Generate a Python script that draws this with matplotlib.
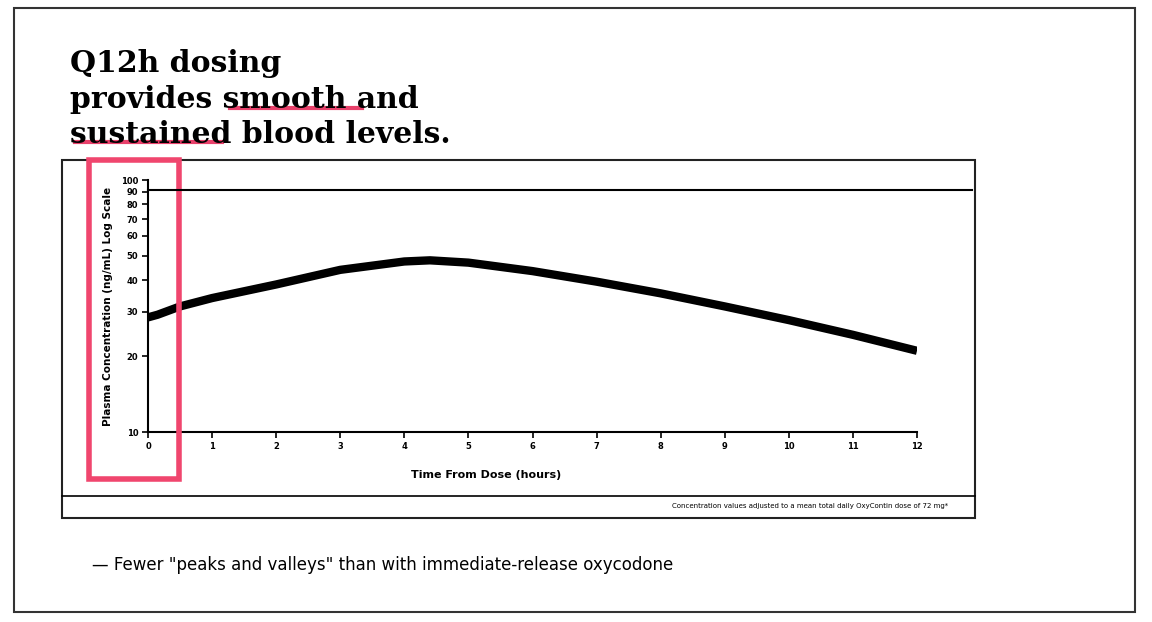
import matplotlib
matplotlib.use("Agg")
import matplotlib.pyplot as plt
from matplotlib.patches import Rectangle

hours = [0, 0.15, 0.5, 1, 2, 3, 4, 4.4, 5, 6, 7, 8, 9, 10, 11, 12]
conc = [28.5, 29.2, 31.5, 34, 38.5, 44, 47.5, 48, 47, 43.5, 39.5, 35.5, 31.5, 27.8, 24.3, 21]
yticks = [10, 20, 30, 40, 50, 60, 70, 80, 90, 100]
xticks = list(range(13))

W, H = 1152, 622
fig = plt.figure(figsize=(W/100, H/100), dpi=100)
fig.patch.set_facecolor("white")

def fx(p): return p / W
def fy(p): return 1 - p / H

fig.add_artist(Rectangle((fx(14), fy(612)), fx(1135-14), (612-8)/H, fill=False, lw=1.5, color="#333", transform=fig.transFigure))
fig.add_artist(Rectangle((fx(62), fy(518)), fx(975-62), (518-160)/H, fill=False, lw=1.5, color="#222", transform=fig.transFigure))
fig.add_artist(plt.Line2D([fx(148), fx(972)], [fy(190), fy(190)], color="black", lw=1.5, transform=fig.transFigure))
fig.add_artist(plt.Line2D([fx(62), fx(975)], [fy(496), fy(496)], color="black", lw=1.2, transform=fig.transFigure))

ax = fig.add_axes([fx(148), fy(432), fx(917-148), (432-180)/H])
ax.set_yscale("log")
ax.set_xlim(0, 12)
ax.set_ylim(10, 100)
ax.plot(hours, conc, color="black", lw=6, solid_capstyle="butt")
ax.minorticks_off()
ax.set_yticks(yticks)
ax.set_yticklabels([str(v) for v in yticks])
ax.set_xticks(xticks)
ax.set_xticklabels([str(v) for v in xticks])
ax.tick_params(axis="both", labelsize=6, direction="out", length=4, width=1.2, pad=3)
for lab in ax.get_xticklabels() + ax.get_yticklabels():
    lab.set_fontweight("bold")
ax.spines["right"].set_visible(False)
ax.spines["top"].set_visible(False)
for s in ax.spines.values():
    s.set_linewidth(1.5)
ax.set_ylabel("Plasma Concentration (ng/mL) Log Scale", fontsize=7.5, fontweight="bold", labelpad=6)
ax.set_xlabel("Time From Dose (hours)", fontsize=8, fontweight="bold")
ax.xaxis.set_label_coords(0.44, -0.15)

for yy, t in [(64, "Q12h dosing"), (100, "provides smooth and"), (134, "sustained blood levels.")]:
    fig.text(fx(70), fy(yy), t, fontsize=21.5, fontweight="bold", family="DejaVu Serif", va="center")
fig.add_artist(plt.Line2D([fx(230), fx(362)], [fy(108), fy(108)], color="#e8416b", lw=3, transform=fig.transFigure))
fig.add_artist(plt.Line2D([fx(75), fx(222)], [fy(142), fy(142)], color="#e8416b", lw=3, transform=fig.transFigure))
fig.text(fx(948), fy(506), "Concentration values adjusted to a mean total daily OxyContin dose of 72 mg*", fontsize=5, ha="right", va="center")
fig.text(fx(92), fy(565), "— Fewer \"peaks and valleys\" than with immediate-release oxycodone", fontsize=12, va="center")

fig.add_artist(Rectangle((fx(89), fy(479)), fx(179-89), (479-160)/H, fill=False, lw=4, color="#f0466e", transform=fig.transFigure))

fig.savefig("out.png", dpi=100)
